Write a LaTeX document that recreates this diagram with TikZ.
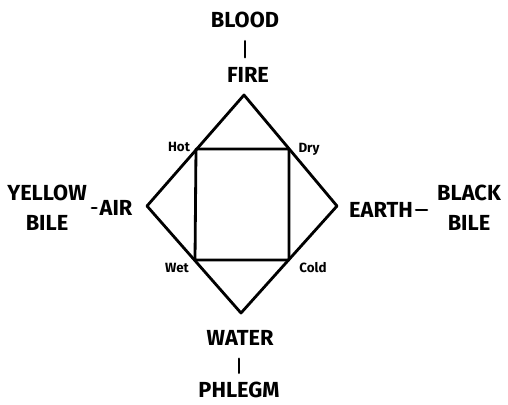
\documentclass[tikz,border=0pt]{standalone}
\usepackage{fontspec}
\setmainfont{Fira Sans}
\begin{document}
\begin{tikzpicture}[x=0.025cm, y=-0.025cm, line join=round, line cap=round,
    element/.style={font=\fontsize{15.5}{21.3}\selectfont\bfseries, inner sep=0pt, align=center},
    quality/.style={font=\fontsize{9.5}{11}\selectfont\bfseries, inner sep=0pt},
    edge/.style={line width=2pt},
    bar/.style={line width=2pt}]
    \useasboundingbox (0,0) rectangle (508,404);
    % Diamond and square
    \coordinate (top) at (244,95);
    \coordinate (left) at (147,206);
    \coordinate (right) at (337,206);
    \coordinate (bottom) at (241,313);
    \draw[edge] (top) -- (right) -- (bottom) -- (left) -- cycle;
    \draw[edge] (196,149) -- (289,149) -- (289,260) -- (195,260) -- cycle;
    % Qualities
    \node[quality] (hot) at (179,147) {Hot};
    \node[quality] (dry) at (309,149) {Dry};
    \node[quality] (wet) at (177,268) {Wet};
    \node[quality] (cold) at (313,268) {Cold};
    % Elements
    \node[element] (fire) at (248,75) {FIRE};
    \node[element] (water) at (240,338) {WATER};
    \node[element] (air) at (116,208) {AIR};
    \node[element] (earth) at (381,210) {EARTH};
    % Humours
    \node[element] (blood) at (245,20) {BLOOD};
    \node[element] (phlegm) at (239,390) {PHLEGM};
    \node[element] (yellow) at (47,208) {YELLOW\\BILE};
    \node[element] (black) at (469,208) {BLACK\\BILE};
    % Links
    \draw[bar, shorten <=13*0.025cm, shorten >=10*0.025cm] (blood.south) -- (blood.south |- fire.north);
    \draw[bar, shorten <=13*0.025cm, shorten >=9*0.025cm] (water.south -| phlegm.north) -- (phlegm.north);
    \draw[bar, shorten <=5*0.025cm, shorten >=3*0.025cm] (yellow.east) -- (air.west);
    \draw[bar, shorten <=3*0.025cm, shorten >=10*0.025cm] (earth.east) -- (earth.east -| black.west);
\end{tikzpicture}
\end{document}
